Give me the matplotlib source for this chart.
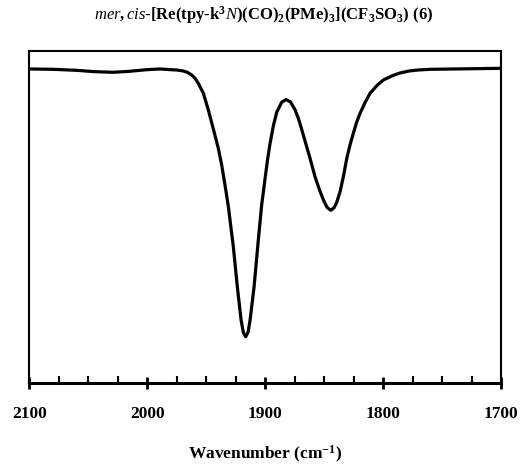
import numpy as np
import matplotlib
matplotlib.use("Agg")
import matplotlib.pyplot as plt
from matplotlib.ticker import MultipleLocator

plt.rcParams['font.family'] = 'Liberation Serif'
plt.rcParams['mathtext.fontset'] = 'custom'
plt.rcParams['mathtext.rm'] = 'Liberation Serif:bold'
plt.rcParams['mathtext.bf'] = 'Liberation Serif:bold'
plt.rcParams['mathtext.it'] = 'Liberation Serif:italic'

# IR spectrum (wavenumber, transmittance in arbitrary %)
wavenumber = [2100, 2080, 2060, 2045, 2029, 2015, 2000, 1989, 1980.8, 1975,
              1969.4, 1966, 1962.3, 1959.5, 1956.7, 1952.4, 1948.2, 1943.9,
              1939.7, 1936.8, 1934, 1931.2, 1927, 1923.6, 1920.4, 1918.5,
              1916.5, 1914.5, 1912.8, 1909.4, 1905.8, 1903, 1900.1, 1898,
              1895.9, 1893, 1890.2, 1886, 1882.3, 1878.5, 1874.6, 1871.8,
              1868.9, 1865.5, 1861.9, 1857.7, 1854, 1850.6, 1847.5, 1844.4,
              1841.5, 1839.3, 1836.5, 1833.7, 1830.8, 1828, 1825.2, 1822.5,
              1819.5, 1815, 1811, 1805, 1799.7, 1792, 1785.6, 1778, 1770,
              1760, 1740, 1720, 1700]
transmittance = [94.5, 94.4, 94.1, 93.7, 93.5, 93.8, 94.3, 94.5, 94.3, 94.2,
                 93.9, 93.5, 92.7, 91.7, 90.2, 87.2, 82.2, 76.4,
                 70.6, 65.5, 59.5, 53.1, 41.1, 29.0, 19.0, 15.3,
                 14.0, 15.3, 19.0, 29.0, 43.1, 53.5, 61.5, 67.2,
                 72.0, 77.5, 81.5, 84.5, 85.3, 84.6, 82.2, 79.6,
                 76.2, 72.0, 67.6, 62.1, 58.2, 55.1, 52.9, 52.0,
                 52.8, 54.4, 57.6, 62.1, 67.6, 71.7, 75.2, 78.4,
                 81.2, 84.6, 87.2, 89.6, 91.2, 92.5, 93.3, 93.9, 94.2,
                 94.4, 94.5, 94.6, 94.7]

fig = plt.figure(figsize=(5.27, 4.65), dpi=100)
ax = fig.add_axes([0.0556, 0.1757, 0.8951, 0.7153])

ax.plot(wavenumber, transmittance, color='black', lw=2.3, solid_joinstyle='round')

ax.set_xlim(2100, 1700)
ax.set_ylim(0, 100)
ax.set_yticks([])
ax.xaxis.set_major_locator(MultipleLocator(100))
ax.xaxis.set_minor_locator(MultipleLocator(25))
ax.tick_params(axis='x', which='major', direction='inout', length=9, width=2,
               pad=12, labelsize=12.5)
ax.tick_params(axis='x', which='minor', direction='in', length=5, width=1.5)
for lab in ax.get_xticklabels():
    lab.set_fontweight('bold')

for s in ['left', 'right', 'top']:
    ax.spines[s].set_linewidth(1.5)
ax.spines['bottom'].set_linewidth(2.2)

ax.set_xlabel('Wavenumber (cm$^{\\mathbf{-1}}$)', fontsize=12.5, fontweight='bold', labelpad=15.5)
fig.text(0.5, 0.967,
         '$\\mathit{mer,cis}$-[Re(tpy-k$^3$$\\mathit{N}$)(CO)$_2$(PMe)$_3$](CF$_3$SO$_3$) (6)',
         ha='center', va='center', fontsize=12, fontweight='bold')

fig.savefig('out.png', dpi=100)
